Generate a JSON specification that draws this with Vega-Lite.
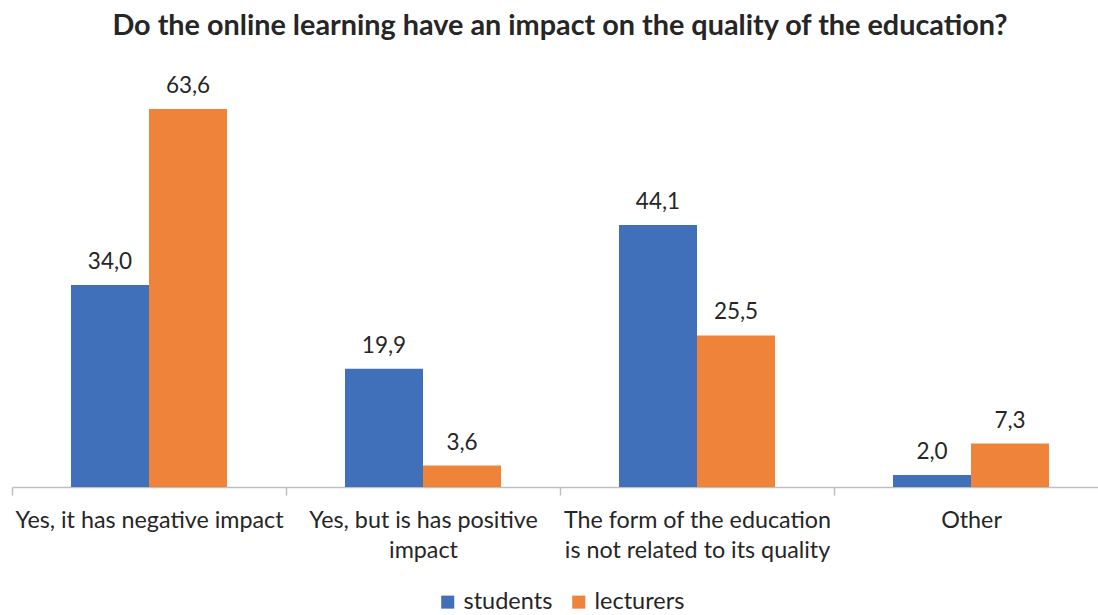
{
  "$schema": "https://vega.github.io/schema/vega-lite/v6.json",
  "width": 1096,
  "height": 416,
  "autosize": {"type": "none"},
  "padding": {"left": 12, "top": 71, "right": 0, "bottom": 128},
  "background": "white",
  "config": {
    "font": "Lato",
    "view": {"stroke": null},
    "locale": {"number": {"decimal": ",", "thousands": ".", "grouping": [3], "currency": ["", ""]}}
  },
  "title": {
    "text": "Do the online learning have an impact on the quality of the education?",
    "font": "Lato",
    "fontSize": 28.8,
    "fontWeight": "bold",
    "color": "#262626",
    "anchor": "middle",
    "offset": 30
  },
  "data": {
    "values": [
      {"category": "Yes, it has negative impact", "group": "students", "value": 34.0},
      {"category": "Yes, it has negative impact", "group": "lecturers", "value": 63.6},
      {"category": "Yes, but is has positive impact", "group": "students", "value": 19.9},
      {"category": "Yes, but is has positive impact", "group": "lecturers", "value": 3.6},
      {"category": "The form of the education is not related to its quality", "group": "students", "value": 44.1},
      {"category": "The form of the education is not related to its quality", "group": "lecturers", "value": 25.5},
      {"category": "Other", "group": "students", "value": 2.0},
      {"category": "Other", "group": "lecturers", "value": 7.3}
    ]
  },
  "encoding": {
    "x": {
      "field": "category",
      "type": "nominal",
      "sort": null,
      "scale": {"paddingInner": 0, "paddingOuter": 0},
      "axis": {
        "title": null,
        "labelAngle": 0,
        "labelFontSize": 23.3,
        "labelColor": "#262626",
        "labelPadding": 14,
        "labelLineHeight": 30,
        "labelBaseline": "top",
        "labelLimit": 300,
        "labelExpr": "datum.label == 'Yes, but is has positive impact' ? ['Yes, but is has positive', 'impact'] : datum.label == 'The form of the education is not related to its quality' ? ['The form of the education', 'is not related to its quality'] : datum.label",
        "domainColor": "#BFBFBF",
        "domainWidth": 1.5,
        "tickColor": "#BFBFBF",
        "tickWidth": 1.5,
        "tickSize": 8,
        "tickBand": "extent",
        "ticks": true
      }
    },
    "xOffset": {"field": "group", "type": "nominal", "sort": ["students", "lecturers"], "scale": {"paddingInner": 0, "paddingOuter": 0.756}},
    "y": {"field": "value", "type": "quantitative", "scale": {"domain": [0, 70], "nice": false}, "axis": null},
    "color": {
      "field": "group",
      "type": "nominal",
      "sort": ["students", "lecturers"],
      "scale": {"domain": ["students", "lecturers"], "range": ["#4070BA", "#F0833A"]},
      "legend": {
        "title": null,
        "orient": "none",
        "legendX": 424,
        "legendY": 519,
        "direction": "horizontal",
        "symbolType": "square",
        "symbolSize": 170,
        "labelFontSize": 23.5,
        "labelColor": "#262626",
        "columnPadding": 14
      }
    }
  },
  "layer": [
    {"mark": {"type": "bar"}},
    {
      "mark": {"type": "text", "baseline": "bottom", "dy": -11, "fontSize": 22.5, "color": "#262626"},
      "encoding": {"text": {"field": "value", "type": "quantitative", "format": ".1f"}, "color": {"value": "#262626"}}
    }
  ]
}
